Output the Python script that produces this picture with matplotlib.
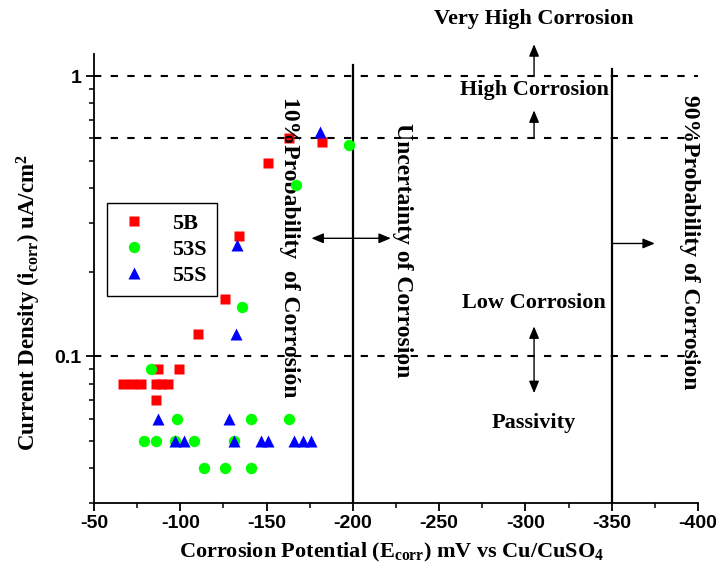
import matplotlib
matplotlib.use("Agg")
import matplotlib.pyplot as plt
from matplotlib.ticker import FixedLocator, MultipleLocator, LogLocator, NullFormatter, FixedFormatter

plt.rcParams['mathtext.fontset'] = 'custom'
plt.rcParams['mathtext.rm'] = 'Liberation Serif:bold'
plt.rcParams['mathtext.bf'] = 'Liberation Serif:bold'
plt.rcParams['mathtext.it'] = 'Liberation Serif:bold'
plt.rcParams['axes.unicode_minus'] = False

serif = 'Liberation Serif'
sans = 'Liberation Sans'

# data (Ecorr in mV, icorr in uA/cm2)
red_x = [-67, -72, -77, -86, -89, -93, -87, -99, -86, -110, -126, -134, -151, -163, -182]
red_y = [0.08, 0.08, 0.08, 0.08, 0.08, 0.08, 0.09, 0.09, 0.07, 0.12, 0.16, 0.27, 0.49, 0.60, 0.58]

green_x = [-198, -167, -136, -83, -98, -141, -163, -79, -86, -97, -108, -131, -114, -126, -141]
green_y = [0.57, 0.41, 0.15, 0.09, 0.06, 0.06, 0.06, 0.05, 0.05, 0.05, 0.05, 0.05, 0.04, 0.04, 0.04]

blue_x = [-181, -133, -132, -87, -128, -97, -102, -131, -147, -151, -166, -171, -176]
blue_y = [0.63, 0.25, 0.12, 0.06, 0.06, 0.05, 0.05, 0.05, 0.05, 0.05, 0.05, 0.05, 0.05]

x_ticks = [-50, -100, -150, -200, -250, -300, -350, -400]
y_ticks = [0.1, 1]
y_ticklabels = ['0.1', '1']
limits_y = [0.1, 0.6, 1]       # dashed limits
limits_x = [-200, -350]        # probability limits

fig = plt.figure(figsize=(7.16, 5.8), dpi=100)
ax = fig.add_axes([94/716, 77/580, 604/716, 449/580])

ax.set_xlim(-50, -400)
ax.set_yscale('log')
ax.set_ylim(0.03, 1.2)

for v in limits_y:
    ax.plot([-50, -400], [v, v], color='black', lw=1.5, dashes=(3.5, 4.5), zorder=2)
ax.plot([limits_x[0]] * 2, [0.03, 1.1], color='black', lw=1.6, zorder=2)
ax.plot([limits_x[1]] * 2, [0.03, 1.06], color='black', lw=1.6, zorder=2)

ax.plot(red_x, red_y, 's', color='#ff0000', ms=7.4, mec='none', label='5B', zorder=3)
ax.plot(green_x, green_y, 'o', color='#00ff00', ms=8.2, mec='none', label='53S', zorder=4)
ax.plot(blue_x, blue_y, '^', color='#0000ff', ms=9.2, mec='none', label='55S', zorder=5)

for s in ['top', 'right']:
    ax.spines[s].set_visible(False)
for s in ['left', 'bottom']:
    ax.spines[s].set_linewidth(1.3)

ax.xaxis.set_major_locator(FixedLocator(x_ticks))
ax.xaxis.set_minor_locator(MultipleLocator(25))
ax.yaxis.set_major_locator(FixedLocator(y_ticks))
ax.yaxis.set_major_formatter(FixedFormatter(y_ticklabels))
ax.yaxis.set_minor_locator(LogLocator(base=10, subs=range(2, 10)))
ax.yaxis.set_minor_formatter(NullFormatter())
ax.tick_params(which='major', direction='out', length=6, width=1.3, pad=3)
ax.tick_params(which='minor', direction='out', length=3.5, width=1.1)
for lab in ax.get_xticklabels() + ax.get_yticklabels():
    lab.set_fontfamily(sans)
    lab.set_fontweight('bold')
    lab.set_fontsize(14)

fig.text(0.547, 0.047, r'Corrosion Potential (E$_{\mathrm{corr}}$) mV vs Cu/CuSO$_{\mathrm{4}}$',
         ha='center', va='center', fontsize=16, fontfamily=serif, fontweight='bold')
fig.text(0.04, 0.478, r'Current Density (i$_{\mathrm{corr}}$) uA/cm$^{\mathrm{2}}$',
         ha='center', va='center', rotation=90, fontsize=16.5, fontfamily=serif, fontweight='bold')

tkw = dict(fontfamily=serif, fontweight='bold', fontsize=16, ha='center', va='center')
ax.text(-305, 1.6, 'Very High Corrosion', **tkw)
ax.text(-305, 0.89, 'High Corrosion', **tkw)
ax.text(-305, 0.155, 'Low Corrosion', **tkw)
ax.text(-305, 0.058, 'Passivity', **tkw)
rkw = dict(tkw, fontsize=17, rotation=270)
ax.text(-163, 0.245, '10%Probability  of Corrosión', **rkw)
ax.text(-229, 0.24, 'Uncertainty of Corrosion', **rkw)
ax.text(-395, 0.255, '90%Probability of Corrosion', **rkw)

akw = dict(color='black', lw=1, shrinkA=0, shrinkB=0, mutation_scale=12)
ax.annotate('', xy=(-305, 1.3), xytext=(-305, 1.0), annotation_clip=False,
            arrowprops=dict(arrowstyle='-|>,head_length=0.6,head_width=0.25', **akw))
ax.annotate('', xy=(-305, 0.755), xytext=(-305, 0.6), annotation_clip=False,
            arrowprops=dict(arrowstyle='-|>,head_length=0.6,head_width=0.25', **akw))
ax.annotate('', xy=(-305, 0.128), xytext=(-305, 0.074), annotation_clip=False,
            arrowprops=dict(arrowstyle='<|-|>,head_length=0.6,head_width=0.25', **akw))
ax.annotate('', xy=(-176, 0.264), xytext=(-222, 0.264), annotation_clip=False,
            arrowprops=dict(arrowstyle='<|-|>,head_length=0.6,head_width=0.25', **akw))
ax.annotate('', xy=(-375, 0.253), xytext=(-350, 0.253), annotation_clip=False,
            arrowprops=dict(arrowstyle='-|>,head_length=0.6,head_width=0.25', **akw))

leg = ax.legend(loc='upper left', bbox_to_anchor=(0.0215, 0.668), borderaxespad=0,
                prop=dict(family=serif, weight='bold', size=16), fancybox=False,
                edgecolor='black', framealpha=1, handlelength=1.5, handletextpad=1.0,
                labelspacing=0.25, borderpad=0.45)
leg.get_frame().set_linewidth(1.0)

fig.savefig('out.png', dpi=100)
